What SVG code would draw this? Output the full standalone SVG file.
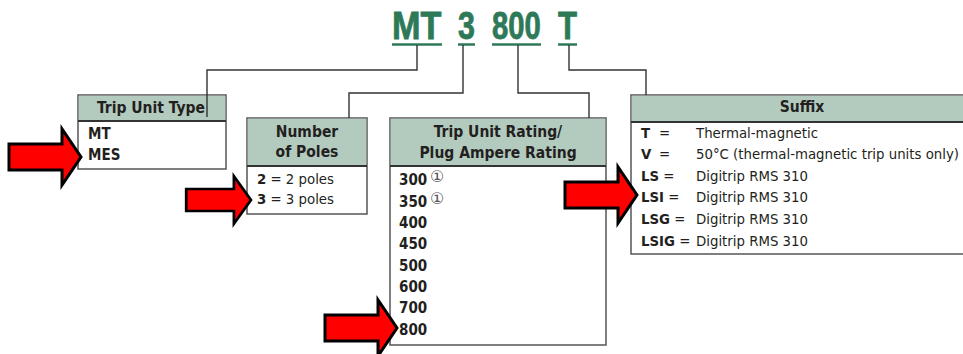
<svg xmlns="http://www.w3.org/2000/svg" width="963" height="354" viewBox="0 0 963 354">
<style>
.t{font-family:"DejaVu Sans Condensed","Liberation Sans Narrow","Roboto Condensed","Liberation Sans",sans-serif;font-stretch:condensed;fill:#231f20}
.h{font-size:15.5px;font-weight:bold;text-anchor:middle}
.b{font-size:14.8px}
.bb{font-size:15px;font-weight:bold}
.box{fill:#fff;stroke:#555;stroke-width:1.5}
.hd{fill:#b3cbbf}
.hl{stroke:#333;stroke-width:2}
.title{font-family:"Liberation Sans",Arial,sans-serif;font-weight:bold;font-size:38px;fill:#2e7a58;stroke:#2e7a58;stroke-width:0.8}
.ul{stroke:#2e7a58;stroke-width:2.5}
.con{fill:none;stroke:#333;stroke-width:1.4}
.arr{fill:#ff0000;stroke:#000;stroke-width:3;stroke-linejoin:miter}
.c1{font-family:"DejaVu Sans",sans-serif;font-size:16px;fill:#555}
</style>
<defs>
<path id="arrow" class="arr" d="M-72,-13 H-19 V-28 L0,0 L-19,28 V13 H-72 Z"/>
</defs>
<g id="title">
<text class="title" transform="translate(392,39) scale(0.9,1)">MT</text>
<text class="title" transform="translate(458,39) scale(0.8,1)">3</text>
<text class="title" transform="translate(492,39) scale(0.77,1)">800</text>
<text class="title" transform="translate(558,39) scale(0.82,1)">T</text>
<line class="ul" x1="392" y1="44.5" x2="442" y2="44.5"/>
<line class="ul" x1="458" y1="44.5" x2="475" y2="44.5"/>
<line class="ul" x1="492" y1="44.5" x2="541" y2="44.5"/>
<line class="ul" x1="558" y1="44.5" x2="577" y2="44.5"/>
</g>
<g id="trip-unit-type">
<rect class="box" x="78" y="95" width="148" height="74"/>
<rect class="hd" x="78.75" y="95.75" width="146.5" height="25.25"/>
<line class="hl" x1="78" y1="121" x2="226" y2="121"/>
<text class="t h" x="151" y="113">Trip Unit Type</text>
<text class="t bb" x="88" y="139">MT</text>
<text class="t bb" x="88" y="160">MES</text>
</g>
<g id="number-of-poles">
<rect class="box" x="247" y="118" width="120" height="96"/>
<rect class="hd" x="247.75" y="118.75" width="118.5" height="47.25"/>
<line class="hl" x1="247" y1="166" x2="367" y2="166"/>
<text class="t h" x="307" y="137">Number</text>
<text class="t h" x="307" y="157">of Poles</text>
<text class="t b" x="257" y="184"><tspan font-weight="bold">2</tspan> = 2 poles</text>
<text class="t b" x="257" y="204"><tspan font-weight="bold">3</tspan> = 3 poles</text>
</g>
<g id="trip-unit-rating">
<rect class="box" x="390" y="118" width="216" height="227"/>
<rect class="hd" x="390.75" y="118.75" width="214.5" height="47.25"/>
<line class="hl" x1="390" y1="166" x2="606" y2="166"/>
<text class="t h" x="498" y="137">Trip Unit Rating/</text>
<text class="t h" x="498" y="158">Plug Ampere Rating</text>
<text class="t bb" x="399" y="185">300</text>
<text class="c1" x="430" y="182">①</text>
<text class="t bb" x="399" y="207">350</text>
<text class="c1" x="430" y="204">①</text>
<text class="t bb" x="399" y="228">400</text>
<text class="t bb" x="399" y="249">450</text>
<text class="t bb" x="399" y="271">500</text>
<text class="t bb" x="399" y="292">600</text>
<text class="t bb" x="399" y="313">700</text>
<text class="t bb" x="399" y="335">800</text>
</g>
<g id="suffix">
<rect class="box" x="631" y="95" width="345" height="159"/>
<rect class="hd" x="631.75" y="95.75" width="343" height="26.25"/>
<line class="hl" x1="631" y1="122" x2="976" y2="122"/>
<text class="t h" x="802" y="112">Suffix</text>
<text class="t b" x="641" y="138"><tspan font-weight="bold">T</tspan><tspan x="659">=</tspan></text>
<text class="t b" x="641" y="159"><tspan font-weight="bold">V</tspan><tspan x="659">=</tspan></text>
<text class="t b" x="641" y="181"><tspan font-weight="bold">LS</tspan> =</text>
<text class="t b" x="641" y="202"><tspan font-weight="bold">LSI</tspan> =</text>
<text class="t b" x="641" y="224"><tspan font-weight="bold">LSG</tspan> =</text>
<text class="t b" x="641" y="246"><tspan font-weight="bold">LSIG</tspan> =</text>
<text class="t b" x="696" y="138">Thermal-magnetic</text>
<text class="t b" x="696" y="159">50°C (thermal-magnetic trip units only)</text>
<text class="t b" x="696" y="181">Digitrip RMS 310</text>
<text class="t b" x="696" y="202">Digitrip RMS 310</text>
<text class="t b" x="696" y="224">Digitrip RMS 310</text>
<text class="t b" x="696" y="246">Digitrip RMS 310</text>
</g>
<g id="connectors">
<polyline class="con" points="417,45 417,70 207,70 207,117"/>
<polyline class="con" points="463,45 463,93 349,93 349,118"/>
<polyline class="con" points="518,45 518,93 589,93 589,118"/>
<polyline class="con" points="569,45 569,70 646,70 646,95"/>
</g>
<g id="arrows">
<use href="#arrow" transform="translate(81,157)"/>
<use href="#arrow" transform="translate(251,200) scale(0.9,0.85)"/>
<use href="#arrow" transform="translate(397,328)"/>
<use href="#arrow" transform="translate(637,195)"/>
</g>
</svg>
